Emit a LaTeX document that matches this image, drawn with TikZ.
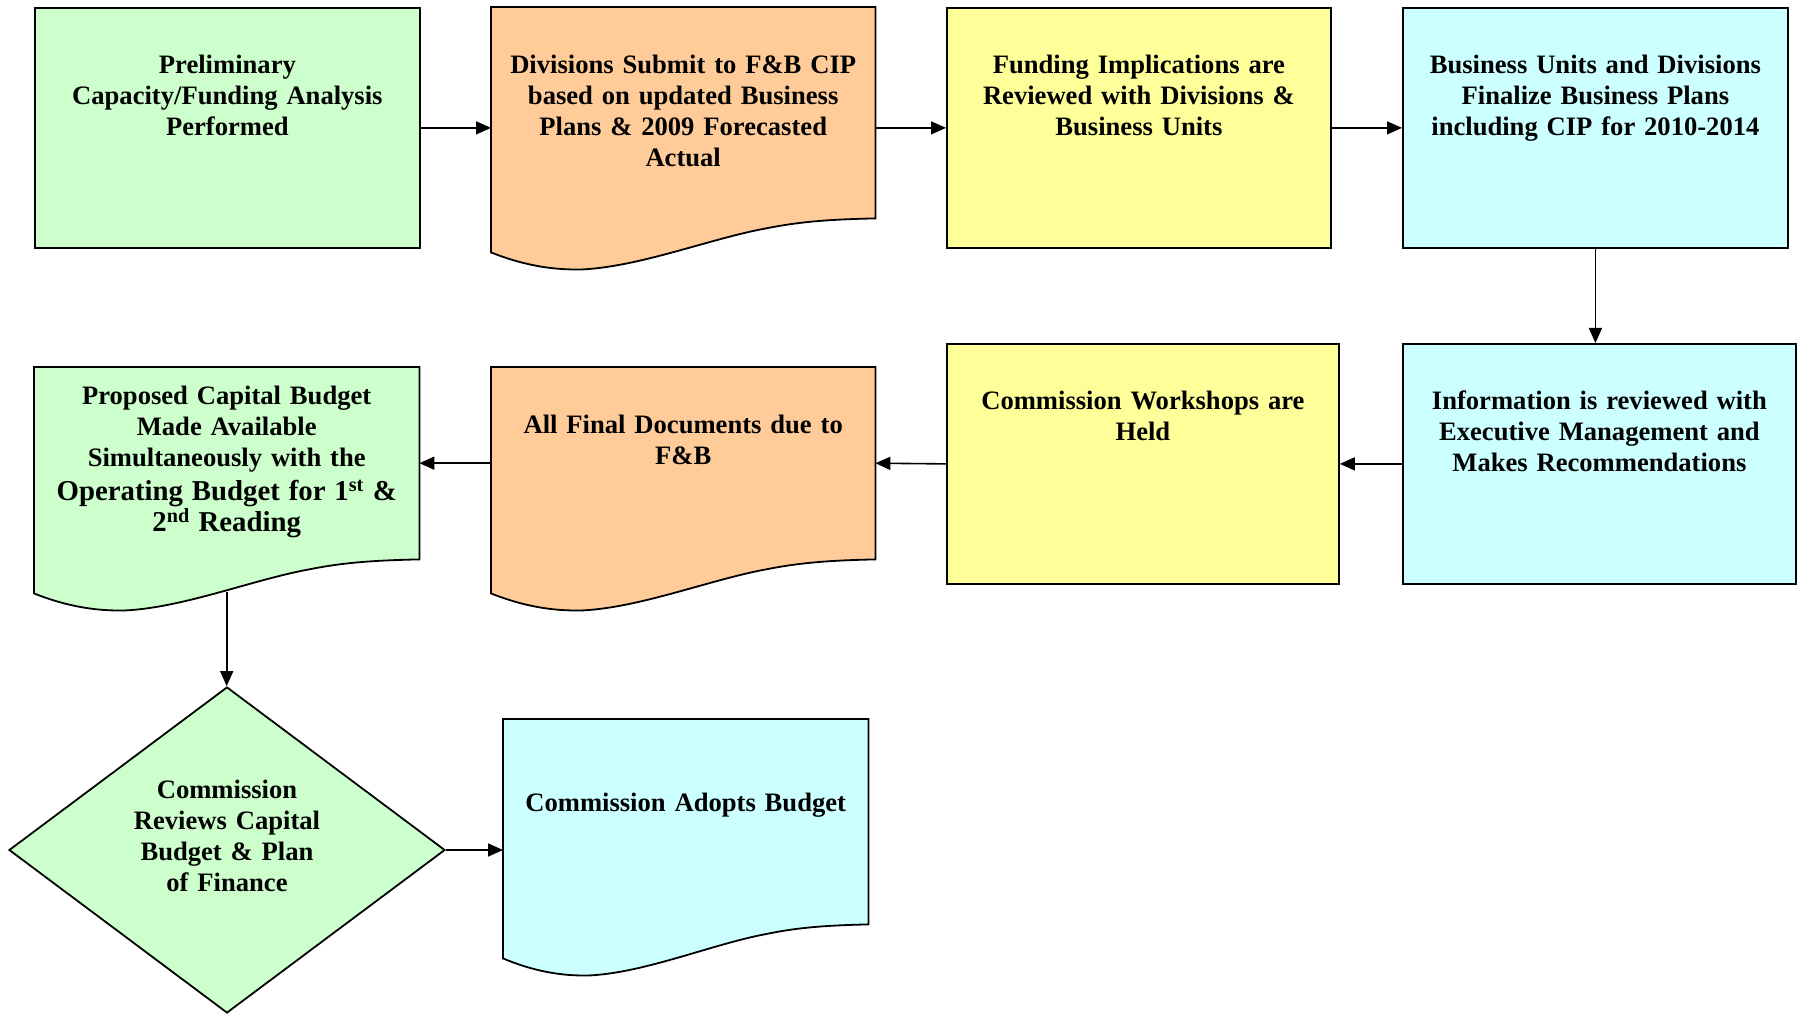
\documentclass[tikz,border=0pt]{standalone}
\usepackage{fontspec}
\setmainfont{Liberation Serif}
\usetikzlibrary{positioning,shapes.geometric,arrows.meta,backgrounds}
\definecolor{boxgreen}{HTML}{CCFFCC}
\definecolor{boxorange}{HTML}{FFCC99}
\definecolor{boxyellow}{HTML}{FFFF99}
\definecolor{boxcyan}{HTML}{CCFFFF}

% outline and fill of a document shape round a named node
\newcommand{\docwave}[3]{%
  \begin{scope}[shift={(#1.south west)},xscale=#3]
    \draw[fill=#2,line width=1.8pt] (#1.south east) -- (#1.north east) -- (#1.north west) -- (0,-34)
      .. controls (30,-46) and (60,-52) .. (92,-51)
      .. controls (150,-48) and (220,-20) .. (275,-10)
      .. controls (310,-3) and (340,-1) .. (#1.south east) -- cycle;
  \end{scope}}

\begin{document}
\begin{tikzpicture}[x=1pt,y=1pt,
stepbox/.style={draw,line width=1.8pt,rectangle,anchor=north west,minimum width=385,minimum height=240,inner sep=0},
docbox/.style={rectangle,anchor=north west,minimum width=384,inner sep=0},
boxtext/.style={anchor=north,yshift=-48,inner sep=0,text width=370,align=center,font=\bfseries\fontsize{26.6}{31}\selectfont},
arr/.style={-{Triangle[length=15pt,width=13pt]},line width=1.6pt}]
\useasboundingbox (0,0) rectangle (1798,1013);

\node (prelim) [stepbox,fill=boxgreen,
    label={[boxtext]north:Preliminary\\Capacity/Funding Analysis\\Performed}] at (34,1006) {};
\node (submit) [docbox,minimum height=211,
    label={[boxtext]north:Divisions Submit to F\&B CIP\\based on updated Business\\Plans \& 2009 Forecasted\\Actual}] at (491,1006) {};
\node (funding) [stepbox,fill=boxyellow,minimum width=384,
    label={[boxtext]north:Funding Implications are\\Reviewed with Divisions \&\\Business Units}] at (946,1006) {};
\node (finalize) [stepbox,fill=boxcyan,
    label={[boxtext]north:Business Units and Divisions\\Finalize Business Plans\\including CIP for 2010-2014}] at (1402,1006) {};

\node (review) [stepbox,fill=boxcyan,minimum width=393,
    label={[boxtext]north:Information is reviewed with\\Executive Management and\\Makes Recommendations}] at (1402,670) {};
\node (workshop) [stepbox,fill=boxyellow,minimum width=392,
    label={[boxtext]north:Commission Workshops are\\Held}] at (946,670) {};
\node (finaldocs) [docbox,minimum height=192,
    label={[boxtext]north:All Final Documents due to\\F\&B}] at (491,646) {};
\node (proposed) [docbox,minimum width=385,minimum height=192,
    label={[boxtext,yshift=29.5]north:Proposed Capital Budget\\Made Available\\Simultaneously with the\endgraf
      \fontsize{28.8}{34}\selectfont Operating Budget for 1\textsuperscript{st} \&\\2\textsuperscript{nd} Reading}] at (34,646) {};

\node (decide) [diamond,draw,line width=1.8pt,fill=boxgreen,minimum width=436,minimum height=326,inner sep=0,
    label={[boxtext,yshift=-46]north:Commission\\Reviews Capital\\Budget \& Plan\\of Finance}] at (227,163) {};
\node (adopt) [docbox,minimum width=365,minimum height=205,
    label={[boxtext,yshift=-25.5]north:Commission Adopts Budget}] at (503,294) {};

\begin{pgfonlayer}{background}
\docwave{submit}{boxorange}{1}
\docwave{finaldocs}{boxorange}{1}
\docwave{proposed}{boxgreen}{1}
\docwave{adopt}{boxcyan}{0.95}
\end{pgfonlayer}

\draw[arr] (prelim.east) -- (prelim.east -| submit.west);
\draw[arr] (funding.west -| submit.east) -- (funding.west);
\draw[arr] (funding.east) -- (finalize.west);
\draw[arr] (finalize.south) -- (finalize.south |- review.north);
\draw[arr] (review.west) -- (workshop.east);
\draw[arr] (workshop.west) -- (finaldocs.east);
\draw[arr] (finaldocs.west) -- (proposed.east);
\draw[arr] ([yshift=-33]proposed.south) -- (proposed.south |- decide.north);
\draw[arr] (decide.east) -- (decide.east -| adopt.west);
\end{tikzpicture}
\end{document}
